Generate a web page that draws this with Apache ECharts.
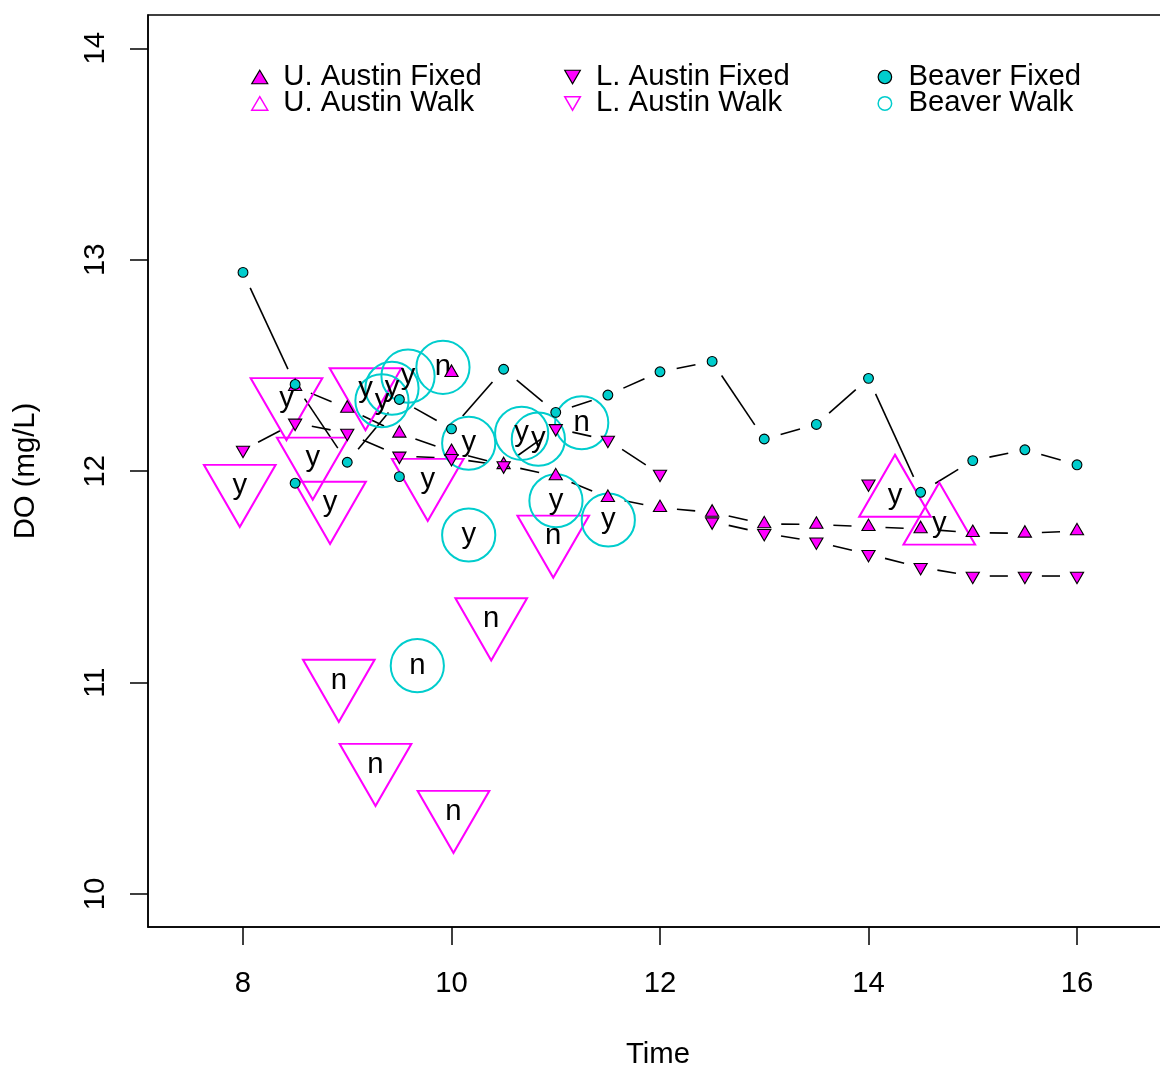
<!DOCTYPE html>
<html><head><meta charset="utf-8">
<script src="https://cdn.jsdelivr.net/npm/echarts@6/dist/echarts.min.js"></script>
<style>html,body{margin:0;padding:0;background:#fff}#main{width:1160px;height:1066px}</style>
</head><body><div id="main"></div>
<script>
// ---- data ----
const fixedTimes = [8, 8.5, 9, 9.5, 10, 10.5, 11, 11.5, 12, 12.5, 13, 13.5, 14, 14.5, 15, 15.5, 16];
const uAustinFixed = [null, 12.40, 12.297, 12.179, 12.092, 12.03, 11.977, 11.875, 11.827, 11.805, 11.75, 11.748, 11.737, 11.727, 11.709, 11.706, 11.717];
const lAustinFixed = [12.10, 12.228, 12.18, 12.072, 12.061, 12.026, 12.202, 12.147, 11.986, 11.761, 11.706, 11.666, 11.607, 11.545, 11.504, 11.504, 11.504];
const beaverFixed = [12.94, 12.41, 12.042, 12.339, 12.20, 12.482, 12.278, 12.36, 12.47, 12.519, 12.152, 12.221, 12.439, 11.90, 12.05, 12.101, 12.03];
// times after which the joining line is broken
const uAustinBreaks = [];
const lAustinBreaks = [12];
const beaverBreaks = [];
// extra fixed readings (plotted as points, not joined)
const uAustinFixedExtraT = [10];
const uAustinFixedExtraV = [12.466];
const lAustinFixedExtraT = [14];
const lAustinFixedExtraV = [11.94];
const beaverFixedExtraT = [8.5, 9.5];
const beaverFixedExtraV = [11.943, 11.974];

const uAustinWalkT = [14.254, 14.679];
const uAustinWalkV = [11.882, 11.750];
const uAustinWalkLab = ['y', 'y'];
const lAustinWalkT = [7.969, 8.417, 8.669, 8.835, 9.175, 9.772, 10.976, 10.381, 8.919, 9.271, 10.019];
const lAustinWalkV = [11.932, 12.342, 12.061, 11.852, 12.389, 11.960, 11.692, 11.301, 11.010, 10.612, 10.390];
const lAustinWalkLab = ['y', 'y', 'y', 'y', 'y', 'y', 'n', 'n', 'n', 'n', 'n'];
const beaverWalkT = [9.333, 9.429, 9.583, 9.918, 10.165, 10.165, 10.673, 10.833, 11.249, 11.002, 11.504, 9.672];
const beaverWalkV = [12.333, 12.392, 12.449, 12.491, 12.132, 11.698, 12.179, 12.151, 12.229, 11.860, 11.769, 11.080];
const beaverWalkLab = ['y', 'y', 'y', 'n', 'y', 'y', 'y', 'y', 'n', 'y', 'y', 'n'];

const xTicks = [8, 10, 12, 14, 16];
const yTicks = [10, 11, 12, 13, 14];

// ---- styling ----
const MAG = '#FF00FF';
const CYA = '#00CDCD';
const FONT = 'Liberation Sans, Arial, Helvetica, sans-serif';
const FS = 29.3;
const DOWN = 'path://M0,0L20,0L10,17.32Z';
const GAP = 17;

function segs(ts, vs, breaks) {
  const out = [];
  for (let i = 0; i < ts.length - 1; i++) {
    if (breaks.indexOf(ts[i]) >= 0) continue;
    if (vs[i] != null && vs[i + 1] != null) out.push([ts[i], vs[i], ts[i + 1], vs[i + 1]]);
  }
  return out;
}
function pts(ts, vs) {
  const out = [];
  ts.forEach((t, i) => { if (vs[i] != null) out.push([t, vs[i]]); });
  return out;
}
function lab(ts, vs, ls) {
  return ts.map((t, i) => ({ value: [t, vs[i]], name: ls[i] }));
}

function lineSeries(name, ts, vs, breaks) {
  return {
    type: 'custom', name: name, z: 2, silent: true,
    encode: { x: [0, 2], y: [1, 3] },
    data: segs(ts, vs, breaks),
    renderItem: function (params, api) {
      const p1 = api.coord([api.value(0), api.value(1)]);
      const p2 = api.coord([api.value(2), api.value(3)]);
      const dx = p2[0] - p1[0], dy = p2[1] - p1[1];
      const L = Math.sqrt(dx * dx + dy * dy);
      if (L <= 2 * GAP) return null;
      const ux = dx / L, uy = dy / L;
      return {
        type: 'line',
        shape: { x1: p1[0] + ux * GAP, y1: p1[1] + uy * GAP, x2: p2[0] - ux * GAP, y2: p2[1] - uy * GAP },
        style: { stroke: '#000', lineWidth: 1.6 }
      };
    }
  };
}

const R0W = 26.6;   // walk symbol radius unit
const TW = 2.6936 * R0W, TH = 2.3327 * R0W, TOFF = 0.3887 * R0W;
const R0F = 4.9;    // fixed symbol radius unit
const FW = 2.6936 * R0F, FH = 2.3327 * R0F, FOFF = 0.3887 * R0F;

const walkLabel = (dy) => ({
  show: true, position: 'inside', formatter: '{b}', color: '#000',
  fontFamily: FONT, fontSize: FS, textBorderWidth: 0, offset: [0, dy]
});

function legendCol(left, data) {
  return {
    orient: 'vertical', left: left, top: 62.5, padding: 0, itemGap: -2.6,
    itemWidth: 16, itemHeight: 13.5, selectedMode: false,
    textStyle: { fontFamily: FONT, fontSize: FS, color: '#000', padding: [0, 0, 0, 10.5] },
    data: data
  };
}

const option = {
  animation: false,
  backgroundColor: '#fff',
  grid: { left: 148, top: 15, width: 1020, height: 912, show: true, borderColor: '#000', borderWidth: 1.5, backgroundColor: 'transparent', outerBoundsMode: 'none', containLabel: false },
  xAxis: {
    type: 'value', min: 7.0887, max: 7.0887 + 1020 / 104.25,
    name: 'Time', nameLocation: 'middle', nameGap: 113,
    nameTextStyle: { fontFamily: FONT, fontSize: FS, color: '#000' },
    axisLine: { show: true, lineStyle: { color: '#000', width: 1.5 } },
    axisTick: { show: true, inside: false, length: 18, lineStyle: { color: '#000', width: 1.5 }, customValues: xTicks },
    axisLabel: { show: true, margin: 42, fontFamily: FONT, fontSize: FS, color: '#000', customValues: xTicks },
    splitLine: { show: false }
  },
  yAxis: {
    type: 'value', min: 10 - 33 / 211.43, max: 14 + 33.3 / 211.43,
    name: 'DO (mg/L)', nameLocation: 'middle', nameGap: 108, nameRotate: 90,
    nameTextStyle: { fontFamily: FONT, fontSize: FS, color: '#000' },
    axisLine: { show: true, lineStyle: { color: '#000', width: 1.5 } },
    axisTick: { show: true, inside: false, length: 18, lineStyle: { color: '#000', width: 1.5 }, customValues: yTicks },
    axisLabel: { show: true, rotate: 90, margin: 38, fontFamily: FONT, fontSize: FS, color: '#000', customValues: yTicks },
    splitLine: { show: false }
  },
  legend: [
    legendCol(251, [
      { name: 'U. Austin Fixed', icon: 'triangle', itemStyle: { color: MAG, borderColor: '#000', borderWidth: 1.2, opacity: 1 } },
      { name: 'U. Austin Walk', icon: 'triangle', itemStyle: { color: 'rgba(0,0,0,0)', borderColor: MAG, borderWidth: 1.5, opacity: 1 } }
    ]),
    legendCol(564, [
      { name: 'L. Austin Fixed', icon: DOWN, itemStyle: { color: MAG, borderColor: '#000', borderWidth: 1.2, opacity: 1 } },
      { name: 'L. Austin Walk', icon: DOWN, itemStyle: { color: 'rgba(0,0,0,0)', borderColor: MAG, borderWidth: 1.5, opacity: 1 } }
    ]),
    legendCol(877.4, [
      { name: 'Beaver Fixed', icon: 'circle', itemStyle: { color: CYA, borderColor: '#000', borderWidth: 1.2, opacity: 1 } },
      { name: 'Beaver Walk', icon: 'circle', itemStyle: { color: 'rgba(0,0,0,0)', borderColor: CYA, borderWidth: 1.5, opacity: 1 } }
    ])
  ],
  series: [
    lineSeries('U. Austin Fixed line', fixedTimes, uAustinFixed, uAustinBreaks),
    lineSeries('L. Austin Fixed line', fixedTimes, lAustinFixed, lAustinBreaks),
    lineSeries('Beaver Fixed line', fixedTimes, beaverFixed, beaverBreaks),
    {
      type: 'scatter', name: 'U. Austin Walk', z: 3, silent: true,
      symbol: 'triangle', symbolSize: [TW, TH], symbolOffset: [0, -TOFF],
      itemStyle: { color: 'rgba(0,0,0,0)', borderColor: MAG, borderWidth: 2, opacity: 1 },
      label: walkLabel(TOFF), emphasis: { disabled: true },
      data: lab(uAustinWalkT, uAustinWalkV, uAustinWalkLab)
    },
    {
      type: 'scatter', name: 'L. Austin Walk', z: 3, silent: true,
      symbol: DOWN, symbolSize: [TW, TH], symbolOffset: [0, TOFF],
      itemStyle: { color: 'rgba(0,0,0,0)', borderColor: MAG, borderWidth: 2, opacity: 1 },
      label: walkLabel(-TOFF), emphasis: { disabled: true },
      data: lab(lAustinWalkT, lAustinWalkV, lAustinWalkLab)
    },
    {
      type: 'scatter', name: 'Beaver Walk', z: 3, silent: true,
      symbol: 'circle', symbolSize: 2 * R0W,
      itemStyle: { color: 'rgba(0,0,0,0)', borderColor: CYA, borderWidth: 2, opacity: 1 },
      label: walkLabel(0), emphasis: { disabled: true },
      data: lab(beaverWalkT, beaverWalkV, beaverWalkLab)
    },
    {
      type: 'scatter', name: 'U. Austin Fixed', z: 4, silent: true,
      symbol: 'triangle', symbolSize: [FW, FH], symbolOffset: [0, -FOFF],
      itemStyle: { color: MAG, borderColor: '#000', borderWidth: 1.1, opacity: 1 }, emphasis: { disabled: true },
      data: pts(fixedTimes, uAustinFixed).concat(pts(uAustinFixedExtraT, uAustinFixedExtraV))
    },
    {
      type: 'scatter', name: 'L. Austin Fixed', z: 4, silent: true,
      symbol: DOWN, symbolSize: [FW, FH], symbolOffset: [0, FOFF],
      itemStyle: { color: MAG, borderColor: '#000', borderWidth: 1.1, opacity: 1 }, emphasis: { disabled: true },
      data: pts(fixedTimes, lAustinFixed).concat(pts(lAustinFixedExtraT, lAustinFixedExtraV))
    },
    {
      type: 'scatter', name: 'Beaver Fixed', z: 4, silent: true,
      symbol: 'circle', symbolSize: 2 * R0F,
      itemStyle: { color: CYA, borderColor: '#000', borderWidth: 1.1, opacity: 1 }, emphasis: { disabled: true },
      data: pts(fixedTimes, beaverFixed).concat(pts(beaverFixedExtraT, beaverFixedExtraV))
    }
  ]
};

const chart = echarts.init(document.getElementById('main'), null, { renderer: 'canvas' });
chart.setOption(option);
</script>
</body></html>
